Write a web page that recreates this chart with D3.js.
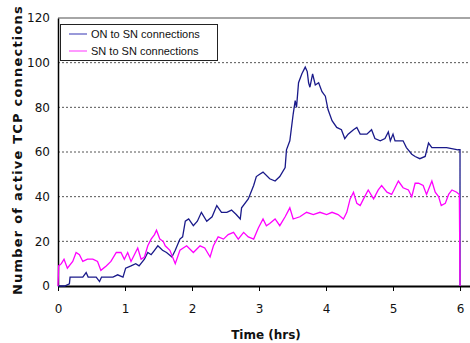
<!DOCTYPE html>
<html><head><meta charset="utf-8">
<script src="https://cdn.jsdelivr.net/npm/d3@7"></script>
<style>body{margin:0;background:#fff}</style>
</head><body><svg id="c" width="470" height="343"></svg>
<script>
const yTicks = [0, 20, 40, 60, 80, 100, 120];
const xTicks = [0, 1, 2, 3, 4, 5, 6];
const seriesNames = ["ON to SN connections", "SN to SN connections"];
const onTime = [0,0.1,0.17,0.18,0.37,0.42,0.45,0.49,0.57,0.62,0.65,0.72,0.82,0.89,0.97,1.01,1.09,1.16,1.21,1.29,1.34,1.39,1.44,1.49,1.56,1.62,1.70,1.75,1.82,1.86,1.9,1.95,2.02,2.08,2.14,2.22,2.3,2.37,2.44,2.52,2.59,2.66,2.72,2.74,2.84,2.92,2.96,3.01,3.06,3.16,3.24,3.31,3.39,3.41,3.46,3.51,3.54,3.56,3.59,3.64,3.69,3.72,3.74,3.76,3.80,3.84,3.89,3.94,3.99,4.03,4.09,4.16,4.23,4.28,4.33,4.41,4.46,4.51,4.61,4.68,4.73,4.81,4.88,4.93,4.96,5.0,5.03,5.15,5.2,5.28,5.33,5.4,5.48,5.53,5.58,5.65,5.72,5.8,5.97,6.0,6.0];
const onValues = [0,0,1,4,4,6,4,4,4,2,4,4,4,5,4,8,9,10,9,12,15,14,16,18,16,15,13,16,21,22,29,30,27,29,33,29,31,36,33,33,34,32,30,35,39,45,49,50,51,48,47,49,53,61,65,77,83,80,91,95,98,96,91,89,95,90,91,87,85,79,74,71,70,66,68,70,71,68,68,70,66,65,66,69,65,68,65,65,62,59,58,57,58,64,62,62,62,62,61,61,0];
const snTime = [0,0.01,0.05,0.09,0.14,0.22,0.27,0.32,0.37,0.44,0.52,0.59,0.64,0.72,0.79,0.87,0.94,0.99,1.04,1.09,1.14,1.19,1.24,1.29,1.34,1.39,1.44,1.47,1.52,1.57,1.6,1.67,1.75,1.82,1.92,2.02,2.12,2.19,2.27,2.32,2.39,2.47,2.54,2.62,2.69,2.77,2.84,2.92,2.99,3.06,3.11,3.16,3.24,3.31,3.39,3.46,3.51,3.61,3.71,3.81,3.91,4.01,4.09,4.18,4.26,4.31,4.36,4.41,4.46,4.51,4.56,4.63,4.71,4.78,4.83,4.91,4.98,5.03,5.08,5.15,5.23,5.28,5.33,5.38,5.45,5.5,5.58,5.63,5.68,5.72,5.78,5.83,5.88,5.95,5.99,6.0];
const snValues = [0,9,10,12,8,11,15,14,11,12,12,11,7,9,11,15,15,12,15,11,14,17,12,13,18,21,23,25,21,20,18,16,10,16,18,15,18,17,13,18,22,21,23,24,21,24,22,21,26,30,27,28,30,27,31,35,30,31,33,32,33,32,33,32,30,33,39,42,37,36,39,43,39,43,45,42,41,44,47,44,43,40,46,46,45,41,47,42,40,36,37,41,43,42,41,0];

const svg = d3.select("#c");
const x = d3.scaleLinear().domain([0, 6.149]).range([58, 470]);
const y = d3.scaleLinear().domain([0, 120]).range([286, 18]);
const tickFont = "DejaVu Sans, Verdana, sans-serif";

// gridlines
svg.append("g").selectAll("line").data(yTicks.filter(d => d > 0 && d < 120)).join("line")
  .attr("x1", 58).attr("x2", 470).attr("y1", d => y(d)).attr("y2", d => y(d))
  .attr("stroke", "#555").attr("stroke-width", 1).attr("stroke-dasharray", "2,2");
// top border
svg.append("line").attr("x1", 58).attr("x2", 470).attr("y1", y(120)).attr("y2", y(120))
  .attr("stroke", "#888").attr("stroke-width", 1.5);

// y axis
const yAxis = svg.append("g").attr("transform", "translate(58,0)")
  .call(d3.axisLeft(y).tickValues(yTicks).tickSize(0).tickPadding(8));
yAxis.select(".domain").attr("stroke", "#000").attr("stroke-width", 1.5);
yAxis.selectAll("text").attr("font-family", tickFont).attr("font-size", 12).attr("fill", "#111");

// x axis
const xAxis = svg.append("g").attr("transform", "translate(0,286)")
  .call(d3.axisBottom(x).tickValues(xTicks).tickFormat(d3.format("d")).tickSize(5).tickSizeOuter(0).tickPadding(13));
xAxis.select(".domain").attr("stroke", "#000").attr("stroke-width", 2);
xAxis.selectAll(".tick line").attr("stroke", "#000");
xAxis.selectAll("text").attr("font-family", tickFont).attr("font-size", 12).attr("fill", "#111");

// lines
const line = d3.line().x(d => x(d[0])).y(d => y(d[1]));
svg.append("path").datum(onTime.map((t, i) => [t, onValues[i]]))
  .attr("d", line).attr("fill", "none").attr("stroke", "#1a1a8a").attr("stroke-width", 1.3);
svg.append("path").datum(snTime.map((t, i) => [t, snValues[i]]))
  .attr("d", line).attr("fill", "none").attr("stroke", "#ff00ff").attr("stroke-width", 1.3);

// legend
const lg = svg.append("g");
lg.append("rect").attr("x", 60.5).attr("y", 24.5).attr("width", 157).attr("height", 36)
  .attr("fill", "#fff").attr("stroke", "#222").attr("stroke-width", 1);
const colors = ["#7777cc", "#ff77ff"];
seriesNames.forEach((n, i) => {
  const yy = 34 + i * 17;
  lg.append("line").attr("x1", 69).attr("x2", 87).attr("y1", yy).attr("y2", yy)
    .attr("stroke", colors[i]).attr("stroke-width", 1.5);
  lg.append("text").attr("x", 91).attr("y", yy + 4).text(n)
    .attr("font-family", "Liberation Sans, Arial, sans-serif").attr("font-size", 11).attr("fill", "#111");
});

// titles
svg.append("text").attr("transform", "translate(22,150) rotate(-90)").attr("text-anchor", "middle")
  .attr("font-family", tickFont).attr("font-weight", "bold").attr("font-size", 13).attr("letter-spacing", 1.2).attr("fill", "#111")
  .text("Number of active TCP connections");
svg.append("text").attr("x", 266).attr("y", 339).attr("text-anchor", "middle")
  .attr("font-family", tickFont).attr("font-weight", "bold").attr("font-size", 12).attr("fill", "#111")
  .text("Time (hrs)");
</script></body></html>
